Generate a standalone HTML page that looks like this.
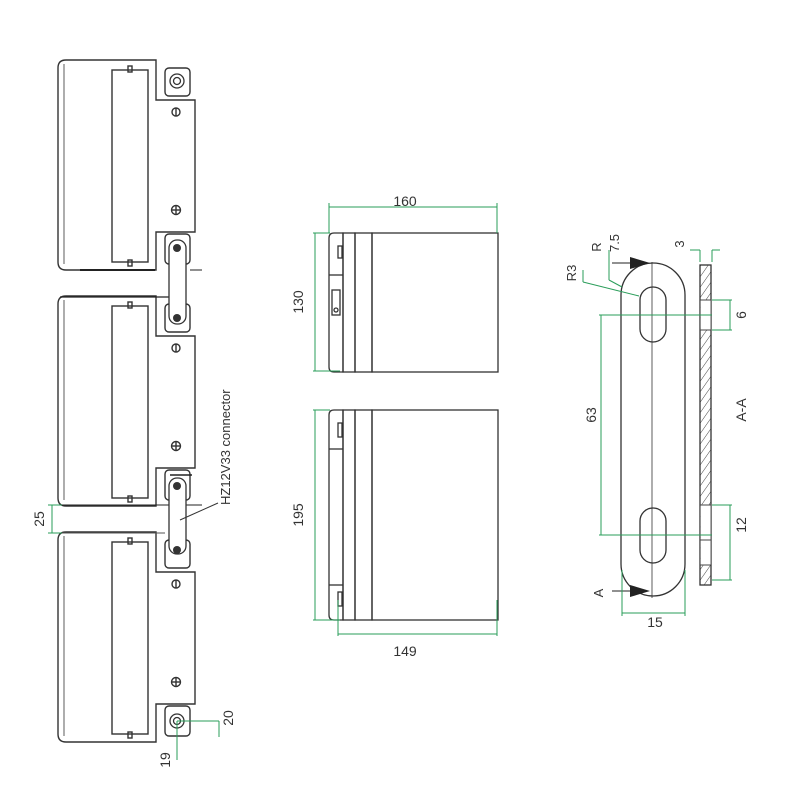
<!DOCTYPE html>
<html><head><meta charset="utf-8"><style>html,body{margin:0;padding:0;background:#fff}svg{display:block}</style></head>
<body>
<svg width="800" height="800" viewBox="0 0 800 800" xmlns="http://www.w3.org/2000/svg" font-family="Liberation Sans, sans-serif">
<defs>
<pattern id="h" width="6" height="6" patternUnits="userSpaceOnUse" patternTransform="rotate(35)"><line x1="0" y1="0" x2="0" y2="6" stroke="#444" stroke-width="1"/></pattern>
<g id="bat" fill="none" stroke="#333" stroke-width="1.4">
  <path d="M66,0 H156 V40 H195 V172 H156 V210 H66 Q58,210 58,202 V8 Q58,0 66,0 Z"/>
  <path d="M64,4 V204" stroke-width="0.8"/>
  <rect x="112" y="10" width="36" height="192"/>
  <rect x="128" y="6" width="4" height="6"/>
  <rect x="128" y="200" width="4" height="6"/>
  <rect x="165" y="8" width="25" height="28" rx="4"/>
  <rect x="165" y="174" width="25" height="30" rx="4"/>
  <circle cx="176" cy="52" r="4"/><line x1="176" y1="48" x2="176" y2="56"/>
  <circle cx="176" cy="150" r="4.5"/><line x1="171.5" y1="150" x2="180.5" y2="150"/><line x1="176" y1="145.5" x2="176" y2="154.5"/>
</g>
</defs>
<use href="#bat" y="60"/>
<use href="#bat" y="296"/>
<use href="#bat" y="532"/>
<line x1="80" y1="270" x2="155" y2="270" stroke="#222" stroke-width="2"/>
<line x1="190" y1="270" x2="202" y2="270" stroke="#222" stroke-width="1"/>
<line x1="60" y1="297" x2="177" y2="297" stroke="#222" stroke-width="1.2"/>
<line x1="60" y1="505" x2="202" y2="505" stroke="#222" stroke-width="1"/>
<line x1="60" y1="533" x2="165" y2="533" stroke="#555" stroke-width="1"/>
<g fill="none" stroke="#333" stroke-width="1.3">
<circle cx="177" cy="81" r="7"/><circle cx="177" cy="81" r="3.5"/>
<circle cx="177" cy="721" r="7"/><circle cx="177" cy="721" r="3.5"/>
<rect x="169" y="240" width="17" height="84" rx="8" fill="#fff"/>
<rect x="169" y="478" width="17" height="76" rx="8" fill="#fff"/>
</g>
<g fill="#333"><circle cx="177" cy="248" r="4"/><circle cx="177" cy="318" r="4"/><circle cx="177" cy="486" r="4"/><circle cx="177" cy="550" r="4"/></g>
<line x1="170" y1="475" x2="192" y2="475" stroke="#222" stroke-width="1.5"/>
<line x1="180" y1="520" x2="218" y2="503" stroke="#333" stroke-width="1"/>
<text transform="translate(230,505) rotate(-90)" font-size="13" fill="#333">HZ12V33 connector</text>
<g stroke="#2a9d5a" stroke-width="1" fill="none"><line x1="52" y1="505" x2="52" y2="533"/><line x1="48" y1="505" x2="62" y2="505"/><line x1="48" y1="533" x2="62" y2="533"/></g>
<text transform="translate(44,519) rotate(-90)" font-size="14" text-anchor="middle" fill="#333">25</text>
<g stroke="#2a9d5a" stroke-width="1" fill="none"><line x1="177" y1="721" x2="177" y2="760"/><line x1="177" y1="721" x2="219" y2="721"/><line x1="219" y1="721" x2="219" y2="737"/></g>
<text transform="translate(170,760) rotate(-90)" font-size="14" text-anchor="middle" fill="#333">19</text>
<text transform="translate(233,718) rotate(-90)" font-size="14" text-anchor="middle" fill="#333">20</text>
<g fill="none" stroke="#333" stroke-width="1.3">
<path d="M334,233 H343 V372 H334 Q329,372 329,367 V238 Q329,233 334,233Z"/>
<rect x="343" y="233" width="12" height="139"/>
<rect x="355" y="233" width="17" height="139"/>
<rect x="372" y="233" width="126" height="139"/>
<line x1="329" y1="275" x2="343" y2="275"/>
<rect x="338" y="246" width="4" height="12"/>
<rect x="332" y="290" width="8" height="25"/><circle cx="336" cy="310" r="2"/>
<path d="M334,410 H343 V620 H334 Q329,620 329,615 V415 Q329,410 334,410Z"/>
<rect x="343" y="410" width="12" height="210"/>
<rect x="355" y="410" width="17" height="210"/>
<rect x="372" y="410" width="126" height="210"/>
<line x1="329" y1="449" x2="343" y2="449"/><line x1="329" y1="585" x2="343" y2="585"/>
<rect x="338" y="423" width="4" height="14"/><rect x="338" y="592" width="4" height="14"/>
</g>
<g stroke="#2a9d5a" stroke-width="1" fill="none">
<line x1="329" y1="207" x2="497" y2="207"/><line x1="329" y1="203" x2="329" y2="233"/><line x1="497" y1="203" x2="497" y2="233"/>
<line x1="315" y1="233" x2="315" y2="371"/><line x1="313" y1="233" x2="330" y2="233"/><line x1="313" y1="371" x2="340" y2="371"/>
<line x1="315" y1="410" x2="315" y2="620"/><line x1="313" y1="410" x2="330" y2="410"/><line x1="313" y1="620" x2="340" y2="620"/>
<line x1="338" y1="634" x2="497" y2="634"/><line x1="338" y1="600" x2="338" y2="636"/><line x1="497" y1="600" x2="497" y2="636"/>
</g>
<text x="405" y="206" font-size="14" text-anchor="middle" fill="#333">160</text>
<text x="405" y="656" font-size="14" text-anchor="middle" fill="#333">149</text>
<text transform="translate(303,302) rotate(-90)" font-size="14" text-anchor="middle" fill="#333">130</text>
<text transform="translate(303,515) rotate(-90)" font-size="14" text-anchor="middle" fill="#333">195</text>
<g fill="none" stroke="#333" stroke-width="1.3">
<rect x="621" y="263" width="64" height="333" rx="32"/>
<line x1="652" y1="262" x2="652" y2="598" stroke-width="0.8"/>
<rect x="640" y="287" width="26" height="55" rx="13"/>
<rect x="640" y="508" width="26" height="55" rx="13"/>
<rect x="700" y="265" width="11" height="320" fill="url(#h)"/>
</g>
<g fill="#fff"><rect x="700.6" y="300" width="10" height="30"/><rect x="700.6" y="505" width="10" height="60"/></g>
<g stroke="#444" stroke-width="1" fill="none"><line x1="700" y1="300" x2="711" y2="300"/><line x1="700" y1="330" x2="711" y2="330"/><line x1="700" y1="505" x2="711" y2="505"/><line x1="700" y1="565" x2="711" y2="565"/><line x1="700" y1="315" x2="711" y2="315"/><line x1="700" y1="540" x2="711" y2="540"/></g>
<line x1="612" y1="263" x2="630" y2="263" stroke="#222"/><path d="M630,257 L650,263 L630,269Z" fill="#222"/>
<line x1="612" y1="591" x2="630" y2="591" stroke="#222"/><path d="M630,585 L650,591 L630,597Z" fill="#222"/>
<text transform="translate(603,593) rotate(-90)" font-size="13" text-anchor="middle" fill="#333">A</text>
<g stroke="#2a9d5a" stroke-width="1" fill="none">
<line x1="601" y1="315" x2="601" y2="535"/><line x1="599" y1="315" x2="712" y2="315"/><line x1="599" y1="535" x2="712" y2="535"/>
<line x1="712" y1="300" x2="732" y2="300"/><line x1="712" y1="330" x2="732" y2="330"/><line x1="730" y1="300" x2="730" y2="330"/>
<line x1="712" y1="505" x2="732" y2="505"/><line x1="712" y1="580" x2="732" y2="580"/><line x1="730" y1="505" x2="730" y2="580"/>
<line x1="622" y1="613" x2="685" y2="613"/><line x1="622" y1="570" x2="622" y2="616"/><line x1="685" y1="570" x2="685" y2="616"/>
<line x1="583" y1="270" x2="583" y2="282"/><line x1="583" y1="282" x2="639" y2="296"/>
<line x1="609" y1="250" x2="609" y2="280"/><line x1="609" y1="280" x2="622" y2="287"/>
<line x1="690" y1="250" x2="700" y2="250"/><line x1="700" y1="250" x2="700" y2="262"/><line x1="712" y1="250" x2="712" y2="262"/><line x1="712" y1="250" x2="720" y2="250"/>
</g>
<text transform="translate(596,415) rotate(-90)" font-size="14" text-anchor="middle" fill="#333">63</text>
<text transform="translate(746,315) rotate(-90)" font-size="14" text-anchor="middle" fill="#333">6</text>
<text transform="translate(746,525) rotate(-90)" font-size="14" text-anchor="middle" fill="#333">12</text>
<text transform="translate(746,410) rotate(-90)" font-size="14" text-anchor="middle" fill="#333">A-A</text>
<text x="655" y="627" font-size="14" text-anchor="middle" fill="#333">15</text>
<text transform="translate(576,273) rotate(-90)" font-size="13" text-anchor="middle" fill="#333">R3</text>
<text transform="translate(601,247) rotate(-90)" font-size="13" text-anchor="middle" fill="#333">R</text>
<text transform="translate(619,243) rotate(-90)" font-size="13" text-anchor="middle" fill="#333">7.5</text>
<text transform="translate(684,244) rotate(-90)" font-size="13" text-anchor="middle" fill="#333">3</text>
</svg>
</body></html>
